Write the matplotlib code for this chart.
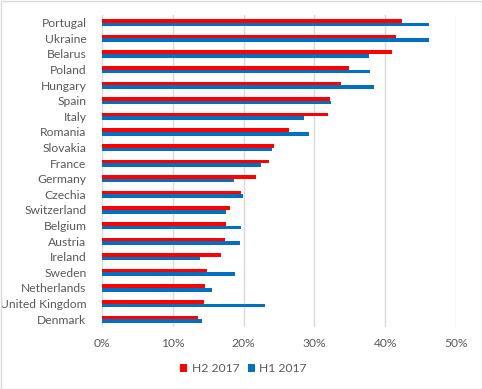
import matplotlib
matplotlib.use("Agg")
import matplotlib.pyplot as plt
import numpy as np
from matplotlib.patches import Rectangle
from matplotlib.ticker import PercentFormatter

countries = ["Portugal", "Ukraine", "Belarus", "Poland", "Hungary", "Spain", "Italy",
             "Romania", "Slovakia", "France", "Germany", "Czechia", "Switzerland",
             "Belgium", "Austria", "Ireland", "Sweden", "Netherlands",
             "United Kingdom", "Denmark"]
h2_2017 = [0.424, 0.415, 0.410, 0.348, 0.337, 0.322, 0.319, 0.264, 0.243, 0.236,
           0.217, 0.197, 0.181, 0.175, 0.174, 0.168, 0.148, 0.146, 0.144, 0.136]
h1_2017 = [0.461, 0.462, 0.377, 0.378, 0.384, 0.323, 0.285, 0.293, 0.240, 0.224,
           0.186, 0.199, 0.175, 0.197, 0.195, 0.139, 0.188, 0.155, 0.230, 0.141]
xticks = [0, 0.1, 0.2, 0.3, 0.4, 0.5]

plt.rcParams['font.family'] = ['Lato', 'DejaVu Sans']
txt = '#595959'

fig = plt.figure(figsize=(4.82, 3.89), dpi=100)
ax = fig.add_axes([101.7/482, 1 - 327/389, (456.3 - 101.7)/482, (327 - 15)/389])

n = len(countries)
y = np.arange(n)
h = 0.23
ax.barh(y - h/2, h2_2017, height=h, color='#FF0000', label='H2 2017', zorder=3)
ax.barh(y + h/2, h1_2017, height=h, color='#0070C0', label='H1 2017', zorder=3)

ax.set_ylim(n - 0.5, -0.5)
ax.set_xlim(0, 0.5)
ax.set_yticks(y)
ax.set_yticklabels(countries, fontsize=8.7, color=txt)
ax.set_xticks(xticks)
ax.xaxis.set_major_formatter(PercentFormatter(1.0, decimals=0))
ax.tick_params(axis='x', labelsize=8.7, labelcolor=txt, length=0, pad=8)
ax.tick_params(axis='y', length=0, pad=11)
ax.grid(axis='x', color='#D9D9D9', linewidth=1, zorder=0)
for s in ax.spines.values():
    s.set_visible(False)

handles, labels = ax.get_legend_handles_labels()
fig.legend(handles, labels, loc='center', bbox_to_anchor=(0.505, 1 - 369/389), ncol=2,
           frameon=False, fontsize=8.7, labelcolor=txt, handlelength=0.6,
           handleheight=0.6, handletextpad=0.35, columnspacing=0.7,
           borderaxespad=0, borderpad=0)

fig.patches.append(Rectangle((0.5/482, 0.5/389), 1 - 1/482, 1 - 1/389,
                             transform=fig.transFigure, fill=False,
                             edgecolor='#D9D9D9', linewidth=1))
fig.savefig('out.png', dpi=100)
